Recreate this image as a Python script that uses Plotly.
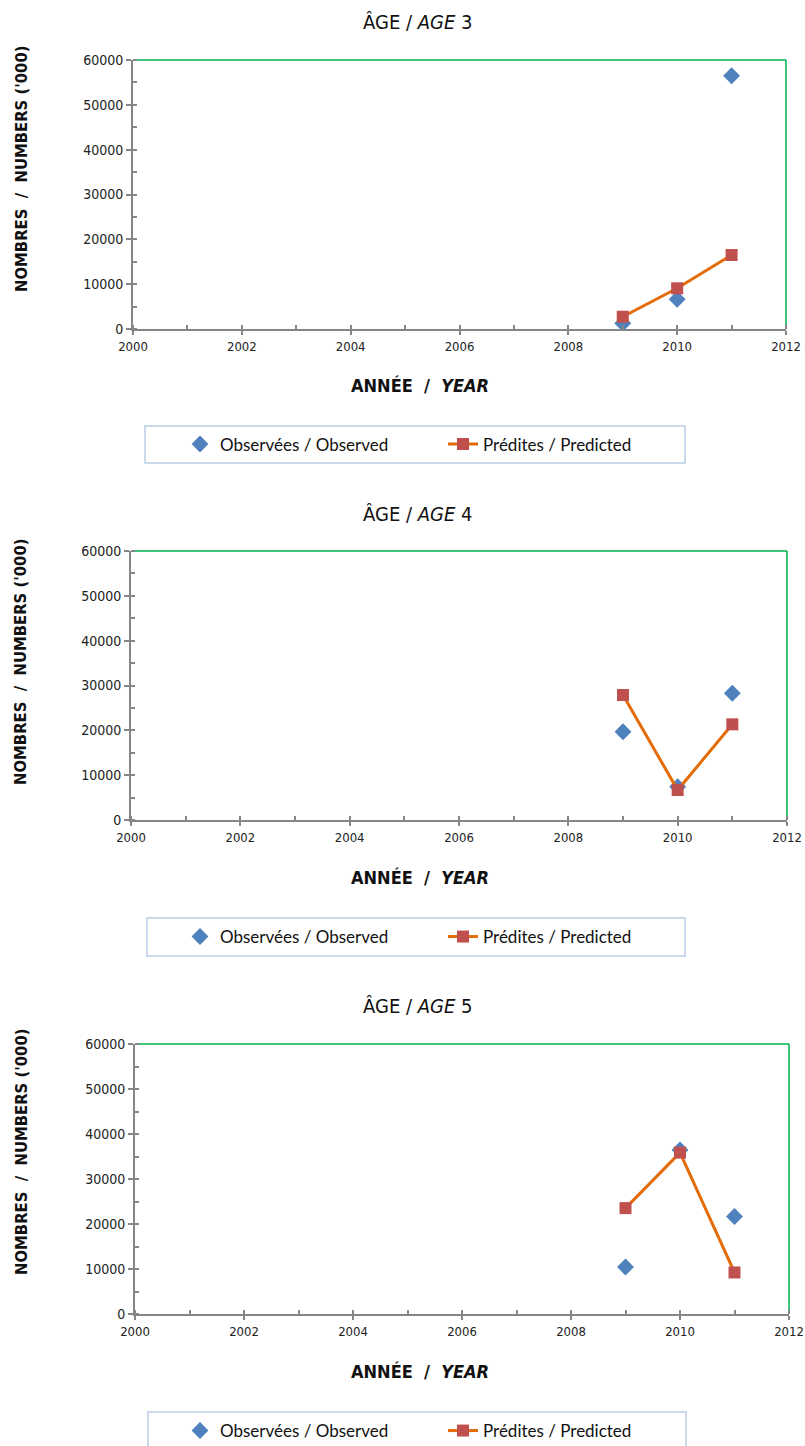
import plotly.graph_objects as go

years = [2009, 2010, 2011]
obs_age3 = [1270, 6620, 56500]
pred_age3 = [2740, 9080, 16500]
obs_age4 = [19700, 7430, 28260]
pred_age4 = [27880, 6690, 21340]
obs_age5 = [10430, 36470, 21660]
pred_age5 = [23530, 35870, 9230]

ages = ["3", "4", "5"]
obs_all = [obs_age3, obs_age4, obs_age5]
pred_all = [pred_age3, pred_age4, pred_age5]

W, H = 805, 1446
# pixel layout per panel: (left, right, top, bottom)
boxes = [(133, 786, 60, 329), (131, 787, 551, 820), (135, 789, 1044, 1314)]
legend_boxes = [(145, 685, 426, 463), (147, 685, 918, 956), (148, 686, 1412, 1450)]
title_y = [22, 514, 1006]
xtitle_y = [386, 878, 1371]
ytitle_y = [169, 662, 1152]

COND = "DejaVu Sans Condensed, Liberation Sans Narrow, sans-serif"
LEG = "Lato, Open Sans, sans-serif"

fig = go.Figure()
layout = dict(width=W, height=H, margin=dict(l=0, r=0, t=0, b=0, autoexpand=False),
              plot_bgcolor="white", paper_bgcolor="white", showlegend=True,
              shapes=[], annotations=[])

for i in range(3):
    sfx = "" if i == 0 else str(i + 1)
    xa, ya = "x" + sfx, "y" + sfx
    leg = "legend" if i == 0 else "legend" + str(i + 1)
    l, r, t, b = boxes[i]
    fig.add_trace(go.Scatter(x=years, y=obs_all[i], mode="markers", name="Observées / Observed",
                             marker=dict(symbol="diamond", size=13, color="#4F81BD"),
                             xaxis=xa, yaxis=ya, legend=leg))
    fig.add_trace(go.Scatter(x=years, y=pred_all[i], mode="lines+markers", name="Prédites / Predicted",
                             marker=dict(symbol="square", size=12, color="#C0504D"),
                             line=dict(color="#E36C09", width=3),
                             xaxis=xa, yaxis=ya, legend=leg))
    layout["xaxis" + sfx] = dict(domain=[l / W, r / W], range=[2000, 2012], anchor=ya,
                                  tickvals=list(range(2000, 2013, 2)), showgrid=False, zeroline=False,
                                  showline=True, linecolor="#868686", linewidth=2,
                                  ticks="outside", ticklen=4, tickcolor="#868686", tickwidth=1.5,
                                  minor=dict(dtick=1, ticks="inside", ticklen=4, tickcolor="#868686"),
                                  tickfont=dict(family=COND, size=13, color="#222"))
    layout["yaxis" + sfx] = dict(domain=[1 - b / H, 1 - t / H], range=[0, 60000], anchor=xa,
                                  dtick=10000, tickformat="d", showgrid=False, zeroline=False,
                                  showline=True, linecolor="#868686", linewidth=2,
                                  ticks="outside", ticklen=5, tickcolor="#868686", tickwidth=1.5,
                                  minor=dict(dtick=5000, ticks="inside", ticklen=4, tickcolor="#868686"),
                                  tickfont=dict(family=COND, size=14, color="#222"))
    # green plot-area border (top and right)
    layout["shapes"].append(dict(type="line", xref="paper", yref="paper",
                                 x0=l / W, x1=r / W, y0=1 - t / H, y1=1 - t / H,
                                 line=dict(color="#00B050", width=1.5), layer="below"))
    layout["shapes"].append(dict(type="line", xref="paper", yref="paper",
                                 x0=r / W, x1=r / W, y0=1 - b / H, y1=1 - t / H,
                                 line=dict(color="#00B050", width=1.5), layer="below"))
    ll, lr, lt, lb = legend_boxes[i]
    layout["shapes"].append(dict(type="rect", xref="paper", yref="paper",
                                 x0=ll / W, x1=lr / W, y0=1 - lb / H, y1=1 - lt / H,
                                 line=dict(color="#B9CDE5", width=1.5), layer="below"))
    layout[leg] = dict(orientation="h", x=180 / W, xanchor="left", y=1 - (lt + lb) / 2 / H,
                       yanchor="middle", entrywidth=218, entrywidthmode="pixels",
                       font=dict(family=LEG, size=17, color="#111"), bgcolor="rgba(0,0,0,0)")
    layout["annotations"].append(dict(text="ÂGE / <i>AGE</i> " + ages[i], xref="paper", yref="paper",
                                      x=418 / W, y=1 - title_y[i] / H, showarrow=False,
                                      xanchor="center", yanchor="middle",
                                      font=dict(family=COND, size=20, color="#111")))
    layout["annotations"].append(dict(text="<b>ANNÉE  /  <i>YEAR</i></b>", xref="paper", yref="paper",
                                      x=420 / W, y=1 - xtitle_y[i] / H, showarrow=False,
                                      xanchor="center", yanchor="middle",
                                      font=dict(family=COND, size=18, color="#111")))
    layout["annotations"].append(dict(text="<b>NOMBRES  /  NUMBERS ('000)</b>", xref="paper", yref="paper",
                                      x=21 / W, y=1 - ytitle_y[i] / H, textangle=-90, showarrow=False,
                                      xanchor="center", yanchor="middle",
                                      font=dict(family=COND, size=16.5, color="#111")))

fig.update_layout(**layout)
fig.write_html("out.html")
